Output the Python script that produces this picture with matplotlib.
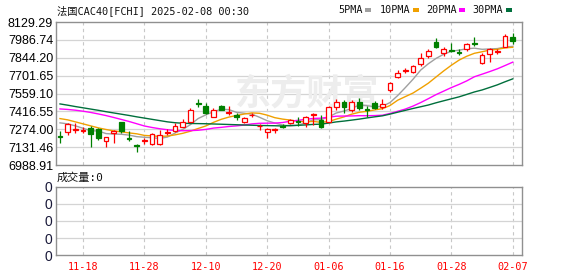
import matplotlib.pyplot as plt
from matplotlib.patches import Rectangle

# CAC40 daily candles, 2024-11-13 .. 2025-02-07
dates = ["11-13", "11-14", "11-15", "11-18", "11-19", "11-20", "11-21", "11-22", "11-25", "11-26",
         "11-27", "11-28", "11-29", "12-02", "12-03", "12-04", "12-05", "12-06", "12-09", "12-10",
         "12-11", "12-12", "12-13", "12-16", "12-17", "12-18", "12-19", "12-20", "12-23", "12-24",
         "12-27", "12-30", "12-31", "01-02", "01-03", "01-06", "01-07", "01-08", "01-09", "01-10",
         "01-13", "01-14", "01-15", "01-16", "01-17", "01-20", "01-21", "01-22", "01-23", "01-24",
         "01-27", "01-28", "01-29", "01-30", "01-31", "02-03", "02-04", "02-05", "02-06", "02-07"]

opens = [7221.4, 7250.6, 7269.2, 7263.9, 7282.4, 7274.5, 7184.2, 7247.9, 7330.2, 7208.1,
         7149.7, 7181.6, 7157.7, 7160.0, 7242.6, 7263.9, 7295.7, 7335.5, 7486.9, 7463.0,
         7375.4, 7463.0, 7407.2, 7388.6, 7330.2, 7385.9, 7298.4, 7250.6, 7269.2, 7303.7,
         7322.3, 7343.5, 7322.3, 7391.3, 7348.8, 7330.2, 7455.0, 7494.8, 7428.4, 7494.8,
         7433.7, 7486.9, 7449.7, 7587.7, 7693.9, 7736.4, 7733.7, 7792.1, 7861.2, 7972.7,
         7885.1, 7906.3, 7890.4, 7911.6, 7964.7, 7800.1, 7871.8, 7890.4, 7932.8, 8012.5]
highs = [7258.6, 7322.3, 7322.3, 7290.4, 7301.0, 7282.4, 7213.4, 7269.2, 7332.9, 7261.2,
         7157.7, 7202.8, 7242.6, 7269.2, 7274.5, 7322.3, 7354.1, 7441.7, 7516.1, 7481.6,
         7441.7, 7468.3, 7460.3, 7401.9, 7375.4, 7401.9, 7314.3, 7287.8, 7287.8, 7316.9,
         7354.1, 7370.1, 7380.7, 7407.2, 7388.6, 7460.3, 7513.4, 7508.1, 7508.1, 7521.4,
         7460.3, 7502.8, 7513.4, 7648.0, 7747.0, 7760.3, 7786.8, 7879.8, 7911.6, 7999.2,
         7927.5, 7959.4, 7911.6, 7959.4, 8012.5, 7885.1, 7919.6, 7911.6, 8033.7, 8039.0]
lows = [7163.0, 7229.4, 7242.6, 7242.6, 7136.4, 7189.5, 7136.4, 7163.0, 7247.9, 7184.2,
        7091.3, 7157.7, 7149.7, 7149.7, 7229.4, 7255.9, 7290.4, 7335.5, 7449.7, 7396.6,
        7370.1, 7428.4, 7388.6, 7348.8, 7327.6, 7370.1, 7269.2, 7202.8, 7242.6, 7287.0,
        7317.0, 7303.7, 7295.7, 7309.0, 7282.4, 7328.0, 7428.4, 7401.9, 7415.2, 7428.4,
        7375.4, 7433.7, 7433.7, 7574.5, 7680.7, 7720.5, 7725.8, 7778.9, 7839.9, 7919.6,
        7858.5, 7893.0, 7866.5, 7901.0, 7940.8, 7798.0, 7813.4, 7871.8, 7927.5, 7954.1]
closes = [7213.4, 7314.3, 7277.1, 7271.8, 7234.7, 7202.8, 7210.7, 7258.6, 7263.9, 7200.2,
          7141.7, 7186.9, 7237.3, 7232.0, 7255.9, 7301.0, 7332.9, 7428.4, 7478.9, 7401.9,
          7428.4, 7428.4, 7415.2, 7370.1, 7367.4, 7391.3, 7303.7, 7277.1, 7277.1, 7290.4,
          7348.8, 7335.5, 7375.4, 7396.6, 7295.7, 7455.0, 7494.8, 7455.0, 7494.8, 7441.7,
          7425.8, 7447.0, 7473.6, 7646.1, 7720.5, 7744.4, 7778.9, 7839.9, 7898.3, 7932.8,
          7911.6, 7898.3, 7882.4, 7954.1, 7956.7, 7866.5, 7911.6, 7898.3, 8017.8, 7980.6]

ma5 = [7325, 7317, 7301, 7282, 7262.3, 7260.1, 7239.4, 7235.7, 7234.1, 7227.2,
       7215.0, 7210.3, 7206.0, 7200.7, 7211.8, 7243.7, 7272.9, 7311.1, 7359.4, 7388.6,
       7414.1, 7433.2, 7430.6, 7408.8, 7401.9, 7394.5, 7369.5, 7341.9, 7323.3, 7307.9,
       7299.4, 7305.8, 7325.4, 7349.3, 7350.4, 7371.6, 7403.5, 7419.4, 7439.1, 7468.3,
       7462.4, 7452.9, 7456.6, 7486.8, 7542.6, 7606.3, 7672.7, 7746.0, 7796.4, 7838.9,
       7872.3, 7896.2, 7904.7, 7915.8, 7920.6, 7911.6, 7914.3, 7917.4, 7930.2, 7935.0]
ma10 = [7359, 7349, 7333, 7317, 7301, 7285, 7272, 7261, 7253, 7244.8,
        7237.6, 7224.9, 7220.9, 7217.4, 7219.5, 7229.4, 7241.6, 7258.6, 7280.1, 7300.2,
        7328.9, 7353.1, 7370.9, 7384.1, 7395.3, 7404.3, 7401.4, 7386.3, 7366.1, 7354.9,
        7347.0, 7337.7, 7333.7, 7336.3, 7329.2, 7335.5, 7354.7, 7372.4, 7394.2, 7409.4,
        7417.0, 7428.2, 7438.0, 7463.0, 7505.5, 7534.4, 7562.8, 7601.3, 7641.6, 7690.8,
        7739.3, 7784.5, 7825.4, 7856.1, 7879.8, 7892.0, 7905.3, 7911.1, 7923.0, 7927.8]
ma20 = [7436, 7432, 7426, 7418, 7408, 7396, 7383, 7368, 7352, 7336,
        7318, 7300, 7288, 7278, 7270, 7264, 7262, 7263, 7266, 7272.5,
        7283.3, 7289.0, 7295.9, 7300.8, 7307.4, 7316.9, 7321.5, 7322.5, 7323.1, 7327.6,
        7338.0, 7345.4, 7352.3, 7360.2, 7362.3, 7369.9, 7378.1, 7379.4, 7380.2, 7382.2,
        7382.0, 7383.0, 7385.9, 7399.7, 7417.4, 7435.0, 7458.8, 7486.9, 7517.9, 7550.1,
        7578.2, 7606.4, 7631.7, 7659.6, 7692.7, 7713.2, 7734.1, 7756.2, 7782.3, 7809.3]
ma30 = [7476, 7466, 7455, 7445, 7435, 7425, 7414, 7404, 7394, 7384,
        7373, 7363, 7353, 7343, 7333, 7326, 7322, 7320, 7319, 7318,
        7316, 7314, 7312, 7310, 7308, 7306, 7304, 7303, 7302, 7300.0,
        7304.5, 7305.2, 7308.5, 7312.6, 7314.7, 7323.1, 7332.6, 7339.1, 7346.8, 7354.9,
        7364.3, 7373.0, 7380.9, 7394.5, 7410.0, 7424.8, 7439.7, 7453.4, 7467.3, 7485.0,
        7501.1, 7516.8, 7532.4, 7551.8, 7571.5, 7587.3, 7607.6, 7628.3, 7652.9, 7676.0]

price_ticks = [6988.91, 7131.46, 7274.00, 7416.55, 7559.10, 7701.65, 7844.20, 7986.74, 8129.29]
date_ticks = ["11-18", "11-28", "12-10", "12-20", "01-06", "01-16", "01-28", "02-07"]
ma_names = ["5PMA", "10PMA", "20PMA", "30PMA"]

RED = "#ff0000"
GREEN = "#008000"
ma_colors = ["#a0a0a0", "#f0a000", "#ff00ff", "#006f3c"]
GRID = "#d4d4d4"
FRAME = "#909090"
MONO = ["DejaVu Sans Mono", "Noto Sans CJK SC"]
NUM = ["Liberation Sans", "DejaVu Sans"]

W, H = 578, 276
fig = plt.figure(figsize=(W / 100, H / 100), dpi=100)
L, R = 56, 522
ax = fig.add_axes([L / W, 1 - 165 / H, (R - L) / W, (165 - 22) / H])
axv = fig.add_axes([L / W, 1 - 255.3 / H, (R - L) / W, (255.3 - 186.7) / H])

x = list(range(len(dates)))
tick_pos = [dates.index(d) for d in date_ticks]

for a in (ax, axv):
    a.set_xlim(-0.52, 60.2)
    for s in a.spines.values():
        s.set_color(FRAME)
        s.set_linewidth(1.0)
    a.set_xticks(tick_pos)
    for p in tick_pos:
        a.axvline(p, color="#c8c8c8", lw=0.8, ls=(0, (3, 3)), zorder=0)
    a.tick_params(length=0)

# price panel
ax.set_ylim(price_ticks[0], price_ticks[-1])
ax.set_yticks(price_ticks)
ax.set_yticklabels([f"{t:.2f}" for t in price_ticks], fontsize=9, family=NUM)
ax.tick_params(axis="y", pad=2)
ax.set_xticklabels([])
for t in price_ticks[1:-1]:
    ax.axhline(t, color=GRID, lw=0.9, zorder=0)

ax.text(0.54, 0.5, "东方财富", transform=ax.transAxes, ha="center", va="center",
        fontsize=26, fontweight="bold", color="#ededed", family="Noto Sans CJK SC", zorder=0.5)

for vals, c in zip([ma5, ma10, ma20, ma30], ma_colors):
    ax.plot(x, vals, color=c, lw=1.0, zorder=2)

up = [i for i in x if closes[i] >= opens[i]]
dn = [i for i in x if closes[i] < opens[i]]
ax.vlines(up, [lows[i] for i in up], [highs[i] for i in up], color=RED, lw=0.9, zorder=3)
ax.vlines(dn, [lows[i] for i in dn], [highs[i] for i in dn], color=GREEN, lw=0.9, zorder=3)
ax.bar(up, [max(closes[i] - opens[i], 2) for i in up], bottom=[opens[i] for i in up],
       width=0.62, facecolor="white", edgecolor=RED, linewidth=0.9, zorder=4)
ax.bar(dn, [max(opens[i] - closes[i], 2) for i in dn], bottom=[closes[i] for i in dn],
       width=0.62, facecolor=GREEN, edgecolor=GREEN, linewidth=0.9, zorder=4)

# volume panel (all zero)
axv.set_ylim(0, 4)
axv.set_yticks([0, 1, 2, 3, 4])
axv.set_yticklabels(["0"] * 5, fontsize=10, family=NUM, color="#1a1a3a")
axv.tick_params(axis="y", pad=3)
for t in [1, 2, 3]:
    axv.axhline(t, color=GRID, lw=0.9, zorder=0)
axv.set_xticklabels(date_ticks, fontsize=7.3, family="DejaVu Sans Mono", color=RED)
axv.tick_params(axis="x", pad=5)

# header texts
fig.text(57 / W, 1 - 11 / H, "法国CAC40[FCHI] 2025-02-08 00:30", ha="left", va="center",
         fontsize=7.4, family=MONO, color="#111111")
fig.text(57 / W, 1 - 178 / H, "成交量:0", ha="left", va="center",
         fontsize=8, family=MONO, color="#111111")

legend_x = [338, 380, 426, 472]
marker_x = [365, 413, 459, 506]
for name, c, lx, mx in zip(ma_names, ma_colors, legend_x, marker_x):
    fig.text(lx / W, 1 - 10 / H, name, ha="left", va="center",
             fontsize=7.3, family=MONO, color="#111111")
    fig.add_artist(Rectangle((mx / W, 1 - 11.5 / H), 6 / W, 3 / H, transform=fig.transFigure,
                             facecolor=c, edgecolor="none"))

fig.savefig("out.png", dpi=100)
